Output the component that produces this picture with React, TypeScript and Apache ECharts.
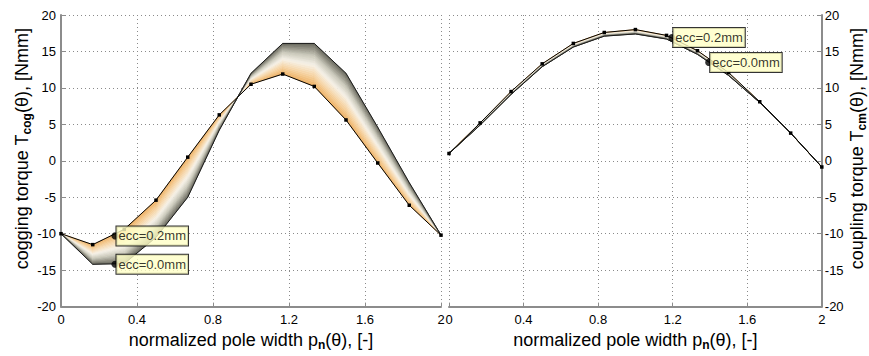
import React, { useEffect, useRef } from "react";
import * as echarts from "echarts";

// normalized pole width p_n(θ)
const poleWidth = [0, 0.167, 0.333, 0.5, 0.667, 0.833, 1.0, 1.167, 1.333, 1.5, 1.667, 1.833, 2.0];

// cogging torque [Nmm]
const coggingEcc02 = [-10.0, -11.5, -9.4, -5.4, 0.5, 6.3, 10.5, 11.9, 10.2, 5.6, -0.3, -6.1, -10.2];
const coggingEcc00 = [-10.0, -14.2, -14.1, -10.5, -5.0, 4.2, 12.0, 16.1, 16.1, 12.0, 4.6, -3.0, -10.2];

// coupling torque [Nmm]
const couplingEcc02 = [1.0, 5.2, 9.5, 13.3, 16.1, 17.6, 18.0, 17.2, 15.1, 12.1, 8.1, 3.8, -0.85];
const couplingEcc00 = [1.0, 4.9, 9.1, 12.9, 15.6, 17.1, 17.4, 16.7, 14.6, 11.7, 8.0, 3.8, -0.85];

// data tips
const tipLabels = ["ecc=0.2mm", "ecc=0.0mm"];
const coggingTipX = [0.284, 0.284];
const coggingTipY = [-10.3, -14.2];
const couplingTipX = [1.195, 1.393];
const couplingTipY = [16.9, 13.5];

// axis ticks
const xMin = 0;
const xMax = 2;
const xStep = 0.4;
const yMin = -20;
const yMax = 20;
const yStep = 5;

const FONT = "'Liberation Sans', Arial, sans-serif";

const bandStops: [number, string][] = [
  [0, "#eeae5e"],
  [0.25, "#f6d4a4"],
  [0.5, "#f6f2e8"],
  [0.72, "#cac8ba"],
  [1, "#66665a"],
];

function hexToRgb(h: string) {
  const n = parseInt(h.slice(1), 16);
  return [(n >> 16) & 255, (n >> 8) & 255, n & 255];
}
function colorAt(t: number) {
  for (let i = 0; i < bandStops.length - 1; i++) {
    const [t0, c0] = bandStops[i];
    const [t1, c1] = bandStops[i + 1];
    if (t <= t1) {
      const f = (t - t0) / (t1 - t0);
      const a = hexToRgb(c0);
      const b = hexToRgb(c1);
      const r = a.map((v, k) => Math.round(v + (b[k] - v) * f));
      return `rgb(${r[0]},${r[1]},${r[2]})`;
    }
  }
  return bandStops[bandStops.length - 1][1];
}

function bandRender(params: any, api: any) {
  const x0 = api.value(0), x1 = api.value(1);
  const a0 = api.value(2), a1 = api.value(3);
  const b0 = api.value(4), b1 = api.value(5);
  const N = 20;
  const children: any[] = [];
  for (let k = 0; k < N; k++) {
    const t0 = k / N, t1 = (k + 1) / N;
    const pts = [
      api.coord([x0, a0 + (b0 - a0) * t0]),
      api.coord([x1, a1 + (b1 - a1) * t0]),
      api.coord([x1, a1 + (b1 - a1) * t1]),
      api.coord([x0, a0 + (b0 - a0) * t1]),
    ];
    const c = colorAt((t0 + t1) / 2);
    children.push({
      type: "polygon",
      shape: { points: pts },
      style: { fill: c, stroke: c, lineWidth: 0.6 },
    });
  }
  return { type: "group", children };
}

function segments(xs: number[], a: number[], b: number[]) {
  const out: number[][] = [];
  for (let i = 0; i < xs.length - 1; i++) {
    out.push([xs[i], xs[i + 1], a[i], a[i + 1], b[i], b[i + 1]]);
  }
  return out;
}

function seriesFor(idx: number, ecc02: number[], ecc00: number[], tipX: number[], tipY: number[]) {
  return [
    {
      type: "custom",
      xAxisIndex: idx,
      yAxisIndex: idx,
      renderItem: bandRender,
      data: segments(poleWidth, ecc02, ecc00),
      encode: { x: [0, 1], y: [2, 3, 4, 5] },
      z: 1,
      silent: true,
    },
    {
      type: "line",
      xAxisIndex: idx,
      yAxisIndex: idx,
      data: poleWidth.map((x, i) => [x, ecc00[i]]),
      showSymbol: false,
      symbol: "none",
      lineStyle: { color: "#1a1a1a", width: 1 },
      z: 2,
      silent: true,
    },
    {
      type: "line",
      xAxisIndex: idx,
      yAxisIndex: idx,
      data: poleWidth.map((x, i) => [x, ecc02[i]]),
      symbol: "rect",
      symbolSize: 3.5,
      itemStyle: { color: "#000" },
      lineStyle: { color: "#000", width: 1 },
      z: 3,
      silent: true,
    },
    {
      type: "scatter",
      xAxisIndex: idx,
      yAxisIndex: idx,
      data: tipX.map((x, i) => ({ value: [x, tipY[i]], name: tipLabels[i] })),
      symbol: "circle",
      symbolSize: 7,
      itemStyle: { color: "#000" },
      label: {
        show: true,
        position: "right",
        distance: -2,
        formatter: "{b}",
        backgroundColor: "#ffffc6",
        borderColor: "#000",
        borderWidth: 1,
        padding: [3, 2, 3, 2],
        fontSize: 13,
        fontFamily: FONT,
        color: "#000",
      },
      z: 5,
      silent: true,
    },
  ];
}

function richName(size: number) {
  return {
    n: { fontSize: size, lineHeight: size + 5, fontFamily: FONT, color: "#000" },
    s: {
      fontSize: Math.round(size * 0.65),
      lineHeight: Math.round(size * 0.65),
      verticalAlign: "bottom",
      fontFamily: FONT,
      fontWeight: "bold",
      color: "#000",
    },
  };
}

const axisLineStyle = { color: "#8c8c8c", width: 2 };

function xAxisFor(idx: number) {
  return {
    type: "value",
    gridIndex: idx,
    min: xMin,
    max: xMax,
    interval: xStep,
    name: "{n|normalized pole width p}{s|n}{n|(θ), [-]}",
    nameLocation: "middle",
    nameGap: 18,
    nameTextStyle: { rich: richName(18) },
    axisLine: { show: true, onZero: false, lineStyle: axisLineStyle },
    axisTick: { show: true, inside: true, length: 4, lineStyle: { color: "#8c8c8c" } },
    axisLabel: { showMinLabel: true, showMaxLabel: true, fontSize: 13, fontFamily: FONT, color: "#000", margin: 6 },
    splitLine: { show: true, lineStyle: { type: [1, 3], color: "#8a8a8a", width: 1 } },
  };
}

function yAxisFor(idx: number, side: "left" | "right", title: string) {
  return {
    type: "value",
    gridIndex: idx,
    position: side,
    min: yMin,
    max: yMax,
    interval: yStep,
    name: title,
    nameLocation: "middle",
    nameGap: side === "left" ? 28 : 20,
    nameTextStyle: { rich: richName(18), padding: [0, 0, 0, 24] },
    axisLine: { show: true, onZero: false, lineStyle: axisLineStyle },
    axisTick: { show: true, inside: true, length: 4, lineStyle: { color: "#8c8c8c" } },
    axisLabel: { fontSize: 13, fontFamily: FONT, color: "#000", margin: side === "left" ? 5 : 3 },
    splitLine: { show: true, lineStyle: { type: [1, 3], color: "#8a8a8a", width: 1 } },
  };
}

export default function App() {
  const ref = useRef<HTMLDivElement>(null);
  useEffect(() => {
    if (!ref.current) return;
    const chart = echarts.init(ref.current, undefined, { renderer: "svg" });
    chart.setOption({
      animation: false,
      backgroundColor: "#ffffff",
      textStyle: { fontFamily: FONT },
      grid: [
        { left: 61, right: 428, top: 15, bottom: 45 },
        { left: 449, right: 41, top: 15, bottom: 45 },
      ],
      xAxis: [xAxisFor(0), xAxisFor(1)],
      yAxis: [
        yAxisFor(0, "left", "{n|cogging torque T}{s|cog}{n|(θ), [Nmm]}"),
        yAxisFor(1, "right", "{n|coupling torque T}{s|cm}{n|(θ), [Nmm]}"),
      ],
      series: [
        ...seriesFor(0, coggingEcc02, coggingEcc00, coggingTipX, coggingTipY),
        ...seriesFor(1, couplingEcc02, couplingEcc00, couplingTipX, couplingTipY),
      ],
    });
    return () => chart.dispose();
  }, []);
  return (
    <div
      ref={ref}
      style={{ position: "fixed", left: 0, top: 0, width: 869, height: 356, background: "#fff" }}
    />
  );
}
